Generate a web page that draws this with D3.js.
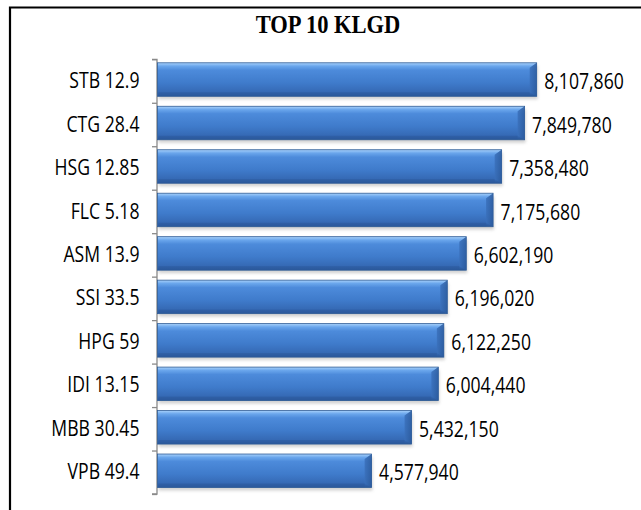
<!DOCTYPE html>
<html>
<head>
<meta charset="UTF-8">
<title>TOP 10 KLGD</title>
<style>
  body { margin: 0; background: #ffffff; }
  svg { display: block; }
  .lbl { font-family: "Open Sans", sans-serif; font-size: 21px; fill: #000; }
</style>
</head>
<body>
<div id="vis"></div>
<script src="https://d3js.org/d3.v7.min.js"></script>
<script>
// ticker + price, trading volume
var codes  = ["STB", "CTG", "HSG", "FLC", "ASM", "SSI", "HPG", "IDI", "MBB", "VPB"];
var prices = ["12.9", "28.4", "12.85", "5.18", "13.9", "33.5", "59", "13.15", "30.45", "49.4"];
var volumes = [8107860, 7849780, 7358480, 7175680, 6602190, 6196020, 6122250, 6004440, 5432150, 4577940];
var title = "TOP 10 KLGD";

var width = 641, height = 510;
var sx = 0.84; // text looks horizontally squeezed

var rows = codes.map(function(c, i) {
  return { name: c + " " + prices[i], v: volumes[i] };
});

var svg = d3.select("#vis").append("svg")
  .attr("width", width)
  .attr("height", height);

var defs = svg.append("defs");
var grad = defs.append("linearGradient")
  .attr("id", "barGrad")
  .attr("x1", 0).attr("y1", 0).attr("x2", 0).attr("y2", 1);
[[0, "#a9d2fb"], [0.1, "#6aa6ec"], [0.22, "#4d8bdb"], [0.6, "#3f7bcb"], [0.88, "#3569b4"], [1, "#2a5798"]]
  .forEach(function(s) {
    grad.append("stop").attr("offset", s[0]).attr("stop-color", s[1]);
  });
var endGrad = defs.append("linearGradient")
  .attr("id", "endGrad")
  .attr("x1", 0).attr("y1", 0).attr("x2", 1).attr("y2", 0);
endGrad.append("stop").attr("offset", 0).attr("stop-color", "#3a70bb");
endGrad.append("stop").attr("offset", 1).attr("stop-color", "#2b5a9c");
defs.append("filter").attr("id", "shadow")
  .attr("x", "-10%").attr("y", "-30%").attr("width", "120%").attr("height", "160%")
  .append("feGaussianBlur").attr("stdDeviation", 1.6);

// frame (top + left only)
svg.append("path")
  .attr("d", "M10,510 V7.5 H641")
  .attr("fill", "none")
  .attr("stroke", "#000")
  .attr("stroke-width", 2.2);

// title
svg.append("text")
  .attr("transform", "translate(328,33) scale(0.9,1)")
  .attr("text-anchor", "middle")
  .style("font-family", "'Liberation Serif', 'Times New Roman', serif")
  .style("font-weight", "bold")
  .style("font-size", "25px")
  .text(title);

var y = d3.scaleBand()
  .domain(rows.map(function(d) { return d.name; }))
  .range([59.3, 494]);

var x = d3.scaleLinear()
  .domain([0, 9000000])
  .range([157.5, 578.4]);

// axis: ticks sit on the category boundaries
var yEdge = d3.scaleLinear().domain([0, rows.length]).range([59.3, 494]);
var axis = svg.append("g")
  .attr("transform", "translate(157,0)")
  .call(d3.axisLeft(yEdge).tickValues(d3.range(rows.length + 1)).tickSize(5).tickFormat(""));
axis.selectAll("path, line").attr("stroke", "#8a8a8a").attr("stroke-width", 1.3);
axis.select("path.domain").attr("d", "M-5,59.3H0V494H-5");

var barH = 33.5, barOff = 3.5;

var bar = svg.selectAll("g.bar")
  .data(rows)
  .enter()
  .append("g")
  .attr("class", "bar");

// soft shadow below each bar
bar.append("rect")
  .attr("x", function() { return x(0) + 1; })
  .attr("y", function(d) { return y(d.name) + barOff + 3; })
  .attr("width", function(d) { return x(d.v) - x(0); })
  .attr("height", barH)
  .attr("fill", "#9a9a9a")
  .attr("opacity", 0.45)
  .attr("filter", "url(#shadow)");

bar.append("rect")
  .attr("x", x(0))
  .attr("y", function(d) { return y(d.name) + barOff; })
  .attr("width", function(d) { return x(d.v) - x(0); })
  .attr("height", barH)
  .attr("fill", "url(#barGrad)")
  .attr("stroke", "#2f5c96")
  .attr("stroke-width", 0.8);

// bevelled right end
bar.append("path")
  .attr("d", function(d) {
    var x1 = x(d.v), t = y(d.name) + barOff;
    return "M" + (x1 - 7) + "," + (t + 5) + "L" + x1 + "," + t + "L" + x1 + "," + (t + barH) +
      "L" + (x1 - 7) + "," + (t + barH - 4) + "Z";
  })
  .attr("fill", "url(#endGrad)")
  .attr("opacity", 0.85);

// darker bottom edge
bar.append("rect")
  .attr("x", x(0) + 1)
  .attr("y", function(d) { return y(d.name) + barOff + barH - 4; })
  .attr("width", function(d) { return x(d.v) - x(0) - 8; })
  .attr("height", 3.6)
  .attr("fill", "#2c5a9c")
  .attr("opacity", 0.55);

// category labels
svg.selectAll("text.cat")
  .data(rows)
  .enter()
  .append("text")
  .attr("class", "lbl cat")
  .attr("text-anchor", "end")
  .attr("dy", "0.36em")
  .attr("transform", function(d) {
    return "translate(139.5," + (y(d.name) + y.bandwidth() / 2 - 0.5) + ") scale(" + sx + ",1)";
  })
  .text(function(d) { return d.name; });

// value labels
var fmt = d3.format(",");
svg.selectAll("text.val")
  .data(rows)
  .enter()
  .append("text")
  .attr("class", "lbl val")
  .attr("dy", "0.36em")
  .attr("transform", function(d) {
    return "translate(" + (x(d.v) + 7.5) + "," + (y(d.name) + y.bandwidth() / 2 + 0.5) + ") scale(" + sx + ",1)";
  })
  .text(function(d) { return fmt(d.v); });
</script>
</body>
</html>
